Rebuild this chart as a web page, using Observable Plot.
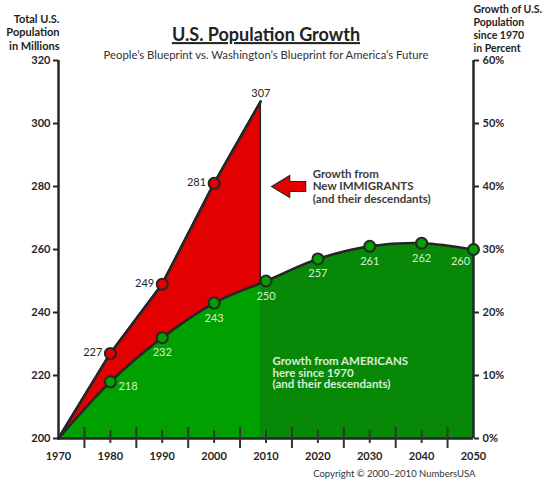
<!DOCTYPE html>
<html><head><meta charset="utf-8">
<script src="https://cdn.jsdelivr.net/npm/d3@7"></script>
<script src="https://cdn.jsdelivr.net/npm/@observablehq/plot@0.6"></script>
<style>body{margin:0;background:#fff} #chart svg{display:block}</style>
</head><body><div id="chart"></div>
<script>
// ---- data ----
const redYears = [1970, 1980, 1990, 2000, 2009];
const redValues = [200, 227, 249, 281, 307];
const greenYears = [1970, 1980, 1990, 2000, 2010, 2020, 2030, 2040, 2050];
const greenValues = [200, 218, 232, 243, 250, 257, 261, 262, 260];
const yTicks = [200, 220, 240, 260, 280, 300, 320];
const decadeLabels = [1970, 1980, 1990, 2000, 2010, 2020, 2030, 2040, 2050];
const halfDecadeTicks = [1975, 1985, 1995, 2005, 2015, 2025, 2035, 2045];
const decadeTicks = [1980, 1990, 2000, 2010, 2020, 2030, 2040];
const titleText = "U.S. Population Growth";
const subtitleText = "People\u2019s Blueprint vs. Washington\u2019s Blueprint for America\u2019s Future";
const leftTitle = "Total U.S.\nPopulation\nin Millions";
const rightTitle = "Growth of U.S.\nPopulation\nsince 1970\nin Percent";
const immigrantNote = "Growth from\nNew IMMIGRANTS\n(and their descendants)";
const americanNote = "Growth from AMERICANS\nhere since 1970\n(and their descendants)";
const copyrightText = "Copyright \u00a9 2000\u20132010 NumbersUSA";
const immigrantYears = [2009]; // end of the immigrant wedge

const red = redYears.map((year, i) => ({year, value: redValues[i]}));
const green = greenYears.map((year, i) => ({year, value: greenValues[i]}));

const ink = "#262626";
const redFill = "#e30000";
const greenFill = "#00a000";
const darkGreen = "#078807";
const greenText = "#d9eed9";
const font = "Lato, 'Open Sans', sans-serif";

const leftArrow = {
  draw(ctx) {
    ctx.moveTo(-17, 0); ctx.lineTo(1, -11); ctx.lineTo(1, -5); ctx.lineTo(17, -5);
    ctx.lineTo(17, 5); ctx.lineTo(1, 5); ctx.lineTo(1, 11); ctx.closePath();
  }
};

const redPts = red.filter(d => d.year >= 1980 && d.year <= 2000);
const redTop = red.filter(d => d.year === immigrantYears[0]);
const greenPts = green.filter(d => d.year >= 1980);
const gFirst = greenPts.filter(d => d.year === 1980);
const gMid = greenPts.filter(d => d.year > 1980 && d.year < 2050);
const gLast = greenPts.filter(d => d.year === 2050);

const chart = Plot.plot({
  width: 550, height: 480,
  marginLeft: 58, marginRight: 77, marginTop: 60, marginBottom: 42,
  style: {fontFamily: font, color: ink, background: "#fff", overflow: "visible"},
  x: {domain: [1970, 2050], axis: null, label: null},
  y: {domain: [200, 320], axis: null, label: null},
  marks: [
    Plot.areaY(red, {x: "year", y1: 200, y2: "value", fill: redFill, stroke: ink, strokeWidth: 1.5}),
    Plot.areaY(green, {x: "year", y1: 200, y2: "value", curve: "catmull-rom", fill: greenFill}),
    Plot.areaY(green, {x: "year", y1: 200, y2: "value", curve: "catmull-rom", fill: darkGreen, ariaDescription: "dark-green"}),
    // axis lines
    Plot.ruleX([1970, 2050], {y1: 200, y2: 320, stroke: ink, strokeWidth: 2.5}),
    Plot.ruleY([200], {x1: 1970, x2: 2050, stroke: ink, strokeWidth: 2.5}),
    // bottom ticks crossing the axis
    Plot.ruleX(halfDecadeTicks, {y1: 200, y2: 200, insetTop: -11, insetBottom: -10, stroke: "#333", strokeWidth: 2}),
    Plot.ruleX(decadeTicks, {y1: 200, y2: 200, insetTop: -8, insetBottom: -5, stroke: "#333", strokeWidth: 2}),
    Plot.axisY(yTicks, {anchor: "left", label: null, tickSize: 5, tickPadding: 3, strokeWidth: 2, fontSize: 11, fontWeight: "bold"}),
    Plot.axisY(yTicks, {anchor: "right", label: null, tickSize: 5, tickPadding: 4, strokeWidth: 2, fontSize: 11, fontWeight: "bold", tickFormat: v => `${(v - 200) / 2}%`}),
    Plot.axisX(decadeLabels, {anchor: "bottom", label: null, tickSize: 0, tickPadding: 14, fontSize: 11, fontWeight: "bold", tickFormat: d => String(d)}),
    // lines
    Plot.line(green, {x: "year", y: "value", curve: "catmull-rom", stroke: ink, strokeWidth: 2.5}),
    Plot.line(red, {x: "year", y: "value", stroke: ink, strokeWidth: 2.5}),
    Plot.dot(redPts, {x: "year", y: "value", r: 5.5, fill: redFill, stroke: ink, strokeWidth: 2}),
    Plot.dot(greenPts, {x: "year", y: "value", r: 5.5, fill: greenFill, stroke: ink, strokeWidth: 2}),
    // value labels
    Plot.text(redPts, {x: "year", y: "value", text: d => String(d.value), textAnchor: "end", dx: -8, dy: -1, fontSize: 11, fill: ink}),
    Plot.text(redTop, {x: "year", y: "value", text: d => String(d.value), textAnchor: "middle", dy: -8, fontSize: 11, fill: ink}),
    Plot.text(gFirst, {x: "year", y: "value", text: d => String(d.value), textAnchor: "start", dx: 8, dy: 5, fontSize: 11, fill: greenText}),
    Plot.text(gMid, {x: "year", y: "value", text: d => String(d.value), textAnchor: "middle", dy: 15, fontSize: 11, fill: greenText}),
    Plot.text(gLast, {x: "year", y: "value", text: d => String(d.value), textAnchor: "middle", dx: -13, dy: 12, fontSize: 11, fill: greenText}),
    // annotations
    Plot.dot([immigrantNote], {x: 2019, y: 280, dx: -24, symbol: leftArrow, fill: redFill, stroke: ink, strokeWidth: 1.2}),
    Plot.text([immigrantNote], {x: 2019, y: 280, text: d => d, textAnchor: "start", lineAnchor: "middle", lineHeight: 1.07, fontSize: 11.5, fontWeight: "bold", fill: "#3c3c3c"}),
    Plot.text([americanNote], {x: 2011.25, y: 220.8, text: d => d, textAnchor: "start", lineAnchor: "middle", lineHeight: 1.0, fontSize: 11.5, fontWeight: "bold", fill: greenText}),
    // titles
    Plot.text([titleText], {frameAnchor: "top", text: d => d, textAnchor: "middle", lineAnchor: "middle", dy: -25, fontSize: 18, fontWeight: "bold", fill: "#222", ariaDescription: "title"}),
    Plot.text([subtitleText], {frameAnchor: "top", text: d => d, textAnchor: "middle", lineAnchor: "middle", dy: -5, fontSize: 11.3, fill: "#333"}),
    Plot.text([leftTitle], {frameAnchor: "top-left", text: d => d, textAnchor: "end", lineAnchor: "middle", lineHeight: 1.23, dx: 1, dy: -28.5, fontSize: 11, fontWeight: "bold", fill: "#222"}),
    Plot.text([rightTitle], {frameAnchor: "top-right", text: d => d, textAnchor: "start", lineAnchor: "middle", lineHeight: 1.25, dx: 0, dy: -32, fontSize: 10.5, fontWeight: "bold", fill: "#222"}),
    Plot.text([copyrightText], {frameAnchor: "bottom-right", text: d => d, textAnchor: "end", lineAnchor: "middle", dx: 2, dy: 35, fontSize: 9.5, fill: "#333"})
  ]
});

// clip the darker green to the years after the immigrant wedge ends
const ns = "http://www.w3.org/2000/svg";
const xs = chart.scale("x");
const xa = xs.apply(immigrantYears[0]), xb = xs.apply(2050);
const defs = document.createElementNS(ns, "defs");
const cp = document.createElementNS(ns, "clipPath");
cp.setAttribute("id", "darkclip");
cp.setAttribute("clipPathUnits", "userSpaceOnUse");
const cr = document.createElementNS(ns, "rect");
cr.setAttribute("x", xa); cr.setAttribute("y", 0);
cr.setAttribute("width", xb - xa + 1); cr.setAttribute("height", 480);
cp.appendChild(cr); defs.appendChild(cp); chart.insertBefore(defs, chart.firstChild);
chart.querySelectorAll('[aria-description="dark-green"]').forEach(el => el.setAttribute("clip-path", "url(#darkclip)"));
chart.querySelectorAll('[aria-description="title"]').forEach(el => {
  el.style.textDecoration = "underline";
  el.querySelectorAll("text").forEach(t => t.style.textDecoration = "underline");
});

document.getElementById("chart").appendChild(chart);
</script></body></html>
